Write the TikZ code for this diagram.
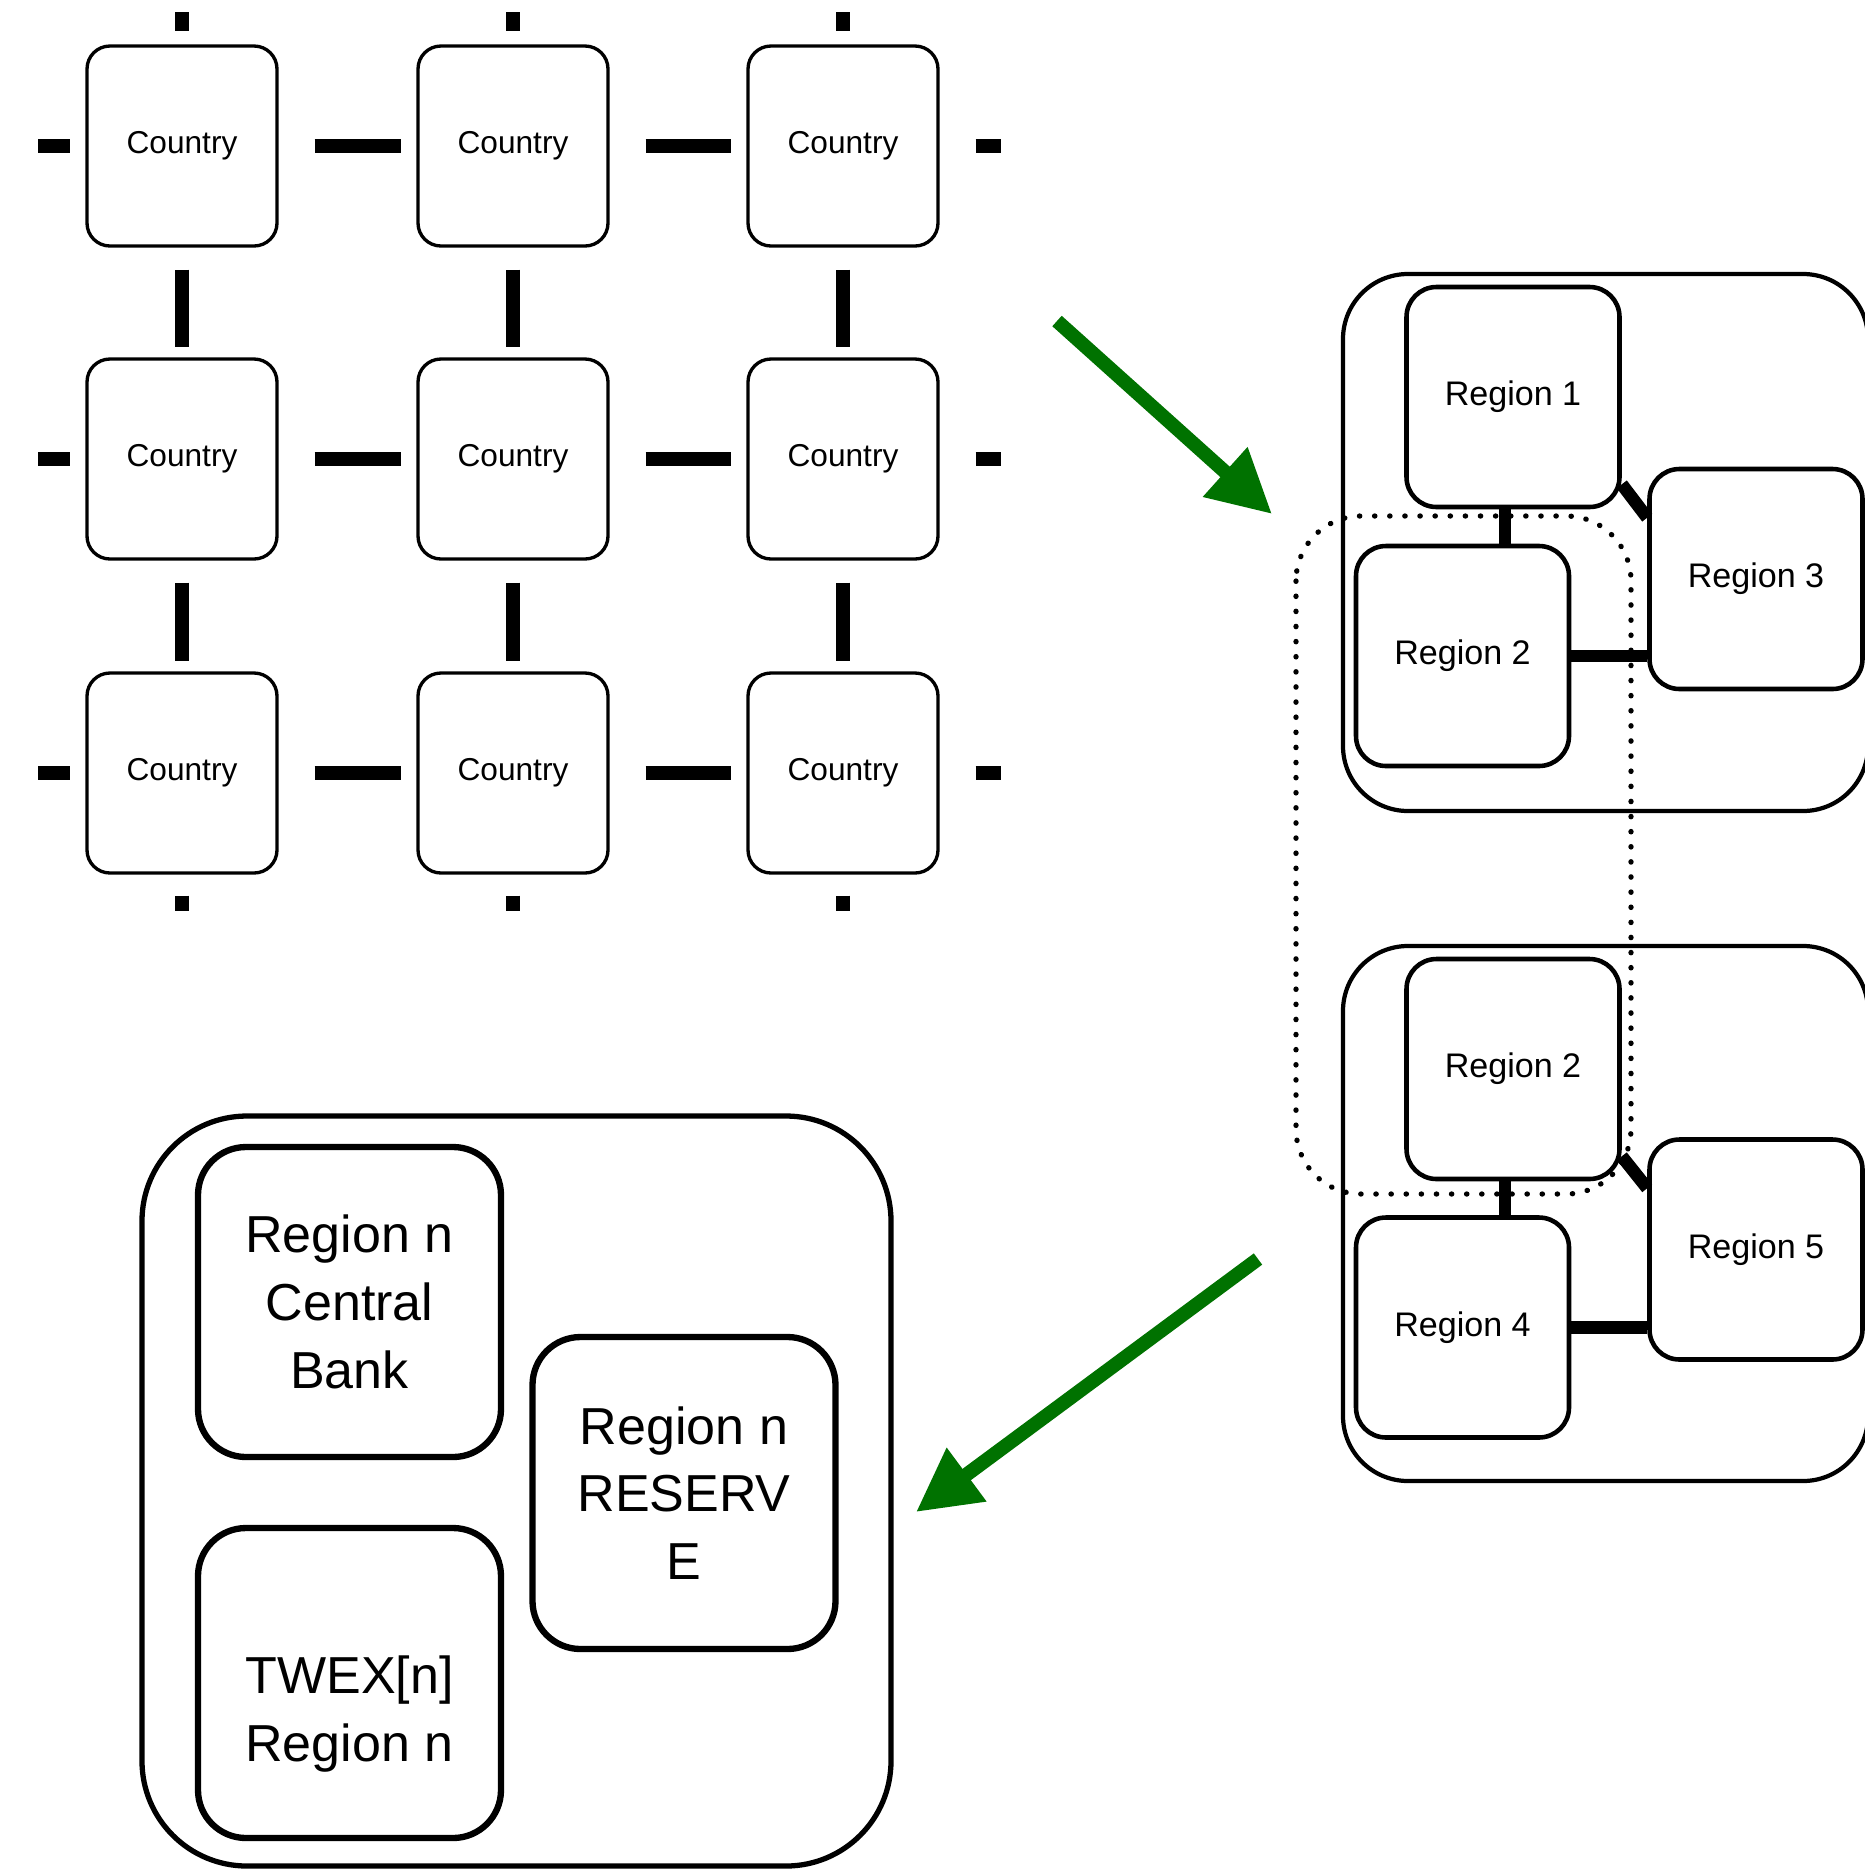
\documentclass[tikz,border=0pt]{standalone}
\usepackage{fontspec}
\setmainfont{Liberation Sans}
\usetikzlibrary{arrows.meta, positioning, calc}
\definecolor{flowgreen}{RGB}{0,114,0}

\tikzset{
  country/.style={draw, fill=white, line width=0.95pt, rounded corners=0.23cm, minimum width=1.9cm, minimum height=2cm, inner sep=0pt, font=\fontsize{9}{11}\selectfont},
  region/.style={draw, fill=white, line width=1.3pt, rounded corners=0.3cm, minimum width=2.13cm, minimum height=2.2cm, inner sep=0pt, font=\fontsize{9.7}{12}\selectfont},
  bank/.style={draw, fill=white, line width=1.8pt, rounded corners=0.48cm, minimum width=3.03cm, minimum height=3.1cm, inner sep=0pt, align=center, font=\fontsize{14.8}{19.3}\selectfont},
  banktext/.style={inner sep=0pt, align=center, font=\fontsize{14.8}{19.3}\selectfont},
  group/.style={draw, line width=1.2pt, rounded corners=0.65cm},
  dotbox/.style={line width=1.5pt, dash pattern=on 0.1pt off 4.2pt, line cap=round, rounded corners=0.65cm},
  link/.style={line width=3.9pt},
  rlink/.style={line width=3.6pt},
  flow/.style={flowgreen, line width=4pt, -{Triangle[length=6.3mm, width=6.3mm]}}
}

\begin{document}
\begin{tikzpicture}
  \useasboundingbox (0,0) rectangle (18.65,-18.70);
  \fill[white] (0,0) rectangle (18.65,-18.70);
  \clip (0,0) rectangle (18.65,-18.70);

  % country grid
  \foreach \r/\y in {1/-1.46, 2/-4.59, 3/-7.73}
    \foreach \c/\x in {1/1.82, 2/5.13, 3/8.43}
      \node[country] (c\r\c) at (\x,\y) {Country};

  \foreach \r in {1,2,3} {
    \draw[link] ([xshift=-0.47cm]c\r1.west) -- ([xshift=-0.15cm]c\r1.west);
    \draw[link] ([xshift=0.36cm]c\r1.east) -- ([xshift=-0.15cm]c\r2.west);
    \draw[link] ([xshift=0.36cm]c\r2.east) -- ([xshift=-0.15cm]c\r3.west);
    \draw[link] ([xshift=0.36cm]c\r3.east) -- ([xshift=0.61cm]c\r3.east);
  }
  \foreach \c in {1,2,3} {
    \draw[link] ([yshift=0.32cm]c1\c.north) -- ([yshift=0.13cm]c1\c.north);
    \draw[link] ([yshift=-0.22cm]c1\c.south) -- ([yshift=0.10cm]c2\c.north);
    \draw[link] ([yshift=-0.22cm]c2\c.south) -- ([yshift=0.10cm]c3\c.north);
    \draw[link] ([yshift=-0.21cm]c3\c.south) -- ([yshift=-0.36cm]c3\c.south);
  }

  % regions
  \draw[group] (13.43,-2.74) rectangle (18.68,-8.11);
  \draw[group] (13.43,-9.46) rectangle (18.68,-14.81);
  \draw[dotbox] (12.96,-5.16) rectangle (16.31,-11.94);

  \node[region] (r1) at (15.13,-3.97) {Region 1};
  \node[region] (r3) at (17.56,-5.79) {Region 3};
  \node[region] (r2) at (14.625,-6.56) {Region 2};
  \draw[rlink] ([xshift=-0.08cm]r1.south) -- ([xshift=-0.08cm]r1.south |- r2.north);
  \draw[rlink] (r2.east) -- (r2.east -| r3.west);
  \draw[rlink] ([yshift=0.25cm]r1.south east) -- ([yshift=-0.51cm]r3.north west);

  \node[region] (s2) at (15.13,-10.69) {Region 2};
  \node[region] (s5) at (17.56,-12.495) {Region 5};
  \node[region] (s4) at (14.625,-13.275) {Region 4};
  \draw[rlink] ([xshift=-0.08cm]s2.south) -- ([xshift=-0.08cm]s2.south |- s4.north);
  \draw[rlink] (s4.east) -- (s4.east -| s5.west);
  \draw[rlink] ([yshift=0.25cm]s2.south east) -- ([yshift=-0.51cm]s5.north west);

  % region n
  \draw[group, line width=1.5pt, rounded corners=1.05cm] (1.42,-11.16) rectangle (8.91,-18.66);
  \node[bank] (cbank) at (3.495,-13.02) {Region n\\Central\\Bank};
  \node[bank] (twex) at (3.495,-16.83) {};
  \node[banktext] (twextext) at ([yshift=-0.31cm]twex.center) {TWEX[n]\\Region n};
  \node[bank, minimum height=3.12cm] (reserve) at (6.84,-14.93) {Region n\\RESERV\\E};

  % arrows
  \coordinate (gridout) at (10.57,-3.21);
  \coordinate (regionin) at (12.72,-5.14);
  \coordinate (regionout) at (12.58,-12.59);
  \coordinate (bankin) at (9.16,-15.12);
  \draw[flow] (gridout) -- (regionin);
  \draw[flow] (regionout) -- (bankin);
\end{tikzpicture}
\end{document}
